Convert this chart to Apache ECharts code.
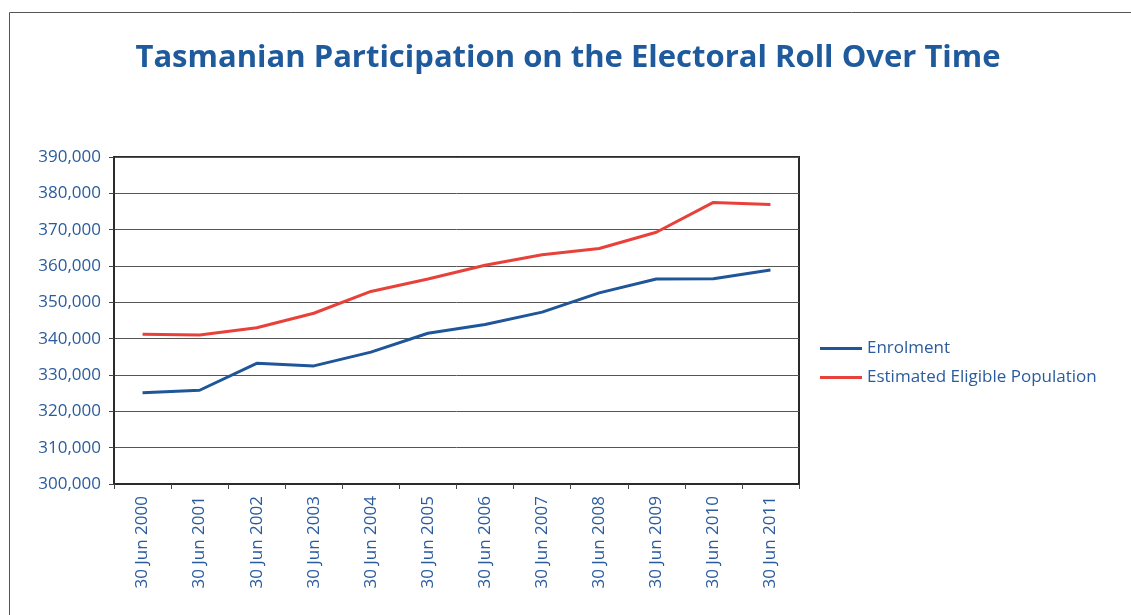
<!DOCTYPE html>
<html>
<head>
<meta charset="utf-8">
<script src="https://cdn.jsdelivr.net/npm/echarts@6/dist/echarts.min.js"></script>
<style>
  html, body { margin: 0; padding: 0; background: #fff; }
  #chart { width: 1131px; height: 615px; }
</style>
</head>
<body>
<div id="chart"></div>
<script>
// Snapshot dates (30 June each year)
const categories = ['30 Jun 2000', '30 Jun 2001', '30 Jun 2002', '30 Jun 2003', '30 Jun 2004', '30 Jun 2005',
                    '30 Jun 2006', '30 Jun 2007', '30 Jun 2008', '30 Jun 2009', '30 Jun 2010', '30 Jun 2011'];

// Number of enrolled electors
const enrolment = [325100, 325800, 333200, 332500, 336300, 341500, 343900, 347300, 352600, 356400, 356500, 358900];

// Estimated eligible population
const eligiblePopulation = [341200, 341000, 343000, 347000, 353000, 356400, 360200, 363100, 364800, 369300, 377500, 376900];

const BLUE_TEXT = '#2a5c9d';
const FONT = '"Open Sans", "Noto Sans", sans-serif';

const chart = echarts.init(document.getElementById('chart'), null, { renderer: 'canvas' });

chart.setOption({
  backgroundColor: '#ffffff',
  animation: false,
  graphic: [{
    type: 'rect',
    shape: { x: 9.5, y: 12.5, width: 1140, height: 620 },
    style: { fill: 'none', stroke: '#555', lineWidth: 1 },
    silent: true,
    z: -1
  }],
  title: {
    text: 'Tasmanian Participation on the Electoral Roll Over Time',
    left: 563,
    textAlign: 'center',
    top: 38,
    textStyle: {
      color: '#1f5a9c',
      fontFamily: '"Open Sans", sans-serif',
      fontWeight: 'bold',
      fontSize: 31
    }
  },
  legend: {
    orient: 'vertical',
    left: 820,
    top: 340,
    padding: 0,
    itemWidth: 42,
    itemHeight: 3,
    itemGap: 12,
    icon: 'rect',
    data: ['Enrolment', 'Estimated Eligible Population'],
    textStyle: { color: BLUE_TEXT, fontFamily: FONT, fontSize: 17, lineHeight: 17 }
  },
  grid: {
    left: 114,
    top: 157,
    width: 685,
    height: 327,
    show: true,
    borderColor: '#2a2a2a',
    borderWidth: 2,
    backgroundColor: 'transparent'
  },
  xAxis: {
    type: 'category',
    data: categories,
    boundaryGap: true,
    axisLine: { lineStyle: { color: '#2a2a2a', width: 2 } },
    axisTick: { show: true, alignWithLabel: false, length: 5, lineStyle: { color: '#444', width: 1 } },
    axisLabel: {
      rotate: 90,
      margin: 12,
      color: BLUE_TEXT,
      fontFamily: FONT,
      fontSize: 17,
      interval: 0
    },
    splitLine: { show: false }
  },
  yAxis: {
    type: 'value',
    min: 300000,
    max: 390000,
    interval: 10000,
    axisLine: { show: true, lineStyle: { color: '#2a2a2a', width: 2 } },
    axisTick: { show: true, length: 5, lineStyle: { color: '#444', width: 1 } },
    axisLabel: {
      margin: 13,
      color: BLUE_TEXT,
      fontFamily: FONT,
      fontSize: 17,
      formatter: v => v.toLocaleString('en-US')
    },
    splitLine: { show: true, lineStyle: { color: '#555', width: 1 } }
  },
  series: [
    {
      name: 'Enrolment',
      type: 'line',
      data: enrolment,
      showSymbol: false,
      symbol: 'none',
      lineStyle: { color: '#1f5599', width: 3 },
      itemStyle: { color: '#1f5599' },
      z: 3
    },
    {
      name: 'Estimated Eligible Population',
      type: 'line',
      data: eligiblePopulation,
      showSymbol: false,
      symbol: 'none',
      lineStyle: { color: '#e8413a', width: 3 },
      itemStyle: { color: '#e8413a' },
      z: 3
    }
  ]
});
</script>
</body>
</html>
